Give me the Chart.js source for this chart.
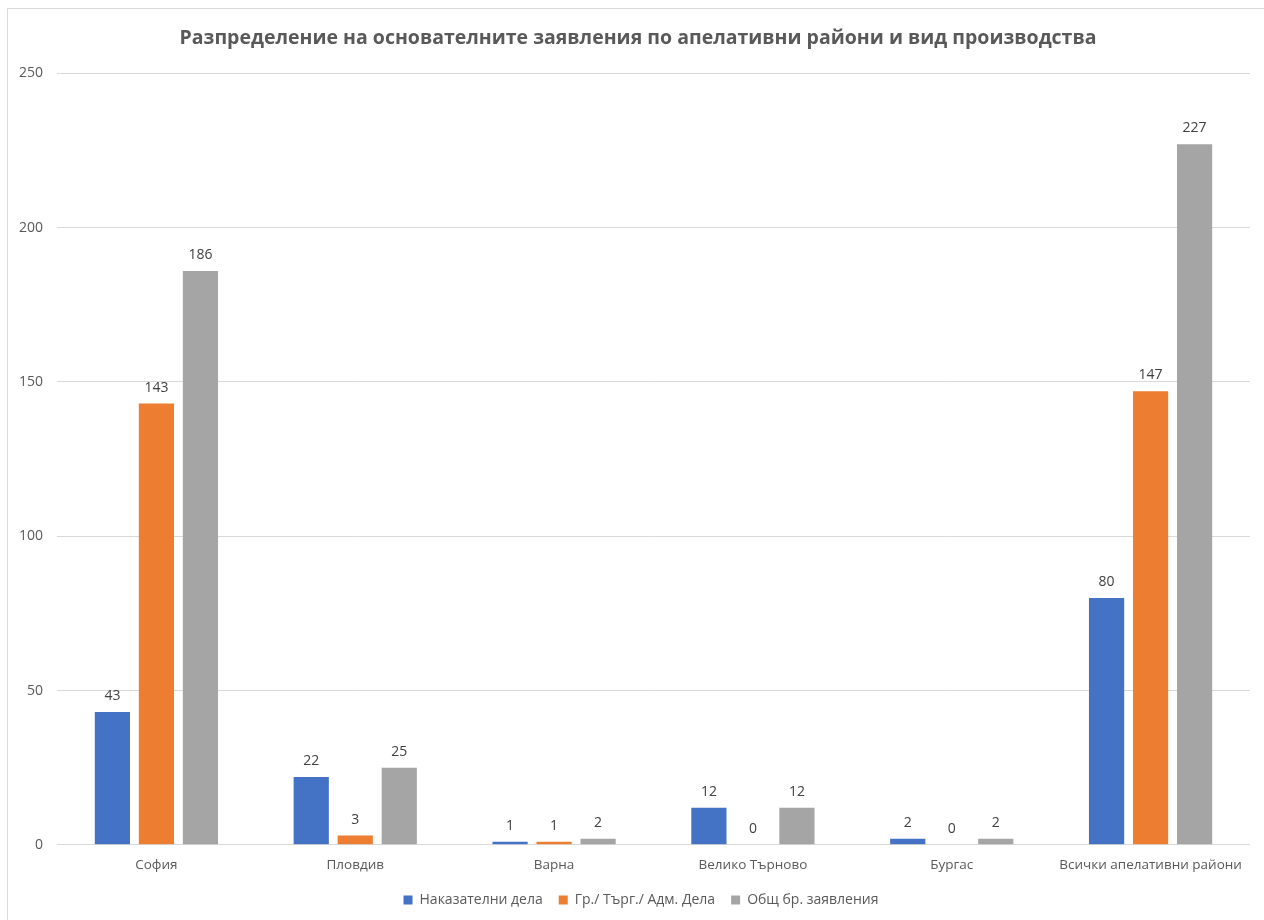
<!DOCTYPE html>
<html>
<head>
<meta charset="utf-8">
<script src="https://cdn.jsdelivr.net/npm/chart.js@4.4.1/dist/chart.umd.min.js"></script>
<style>
  html, body { margin: 0; padding: 0; background: #fff; overflow: hidden; }
  #box { position: absolute; left: 7px; top: 8px; width: 1262px; height: 930px;
         border: 1px solid #d9d9d9; box-sizing: border-box; }
  #wrap { position: absolute; left: 0; top: 0; width: 1260px; height: 908px; }
</style>
</head>
<body>
<div id="box"><div id="wrap"><canvas id="chart"></canvas></div></div>
<script>
const regions = ['София', 'Пловдив', 'Варна', 'Велико Търново', 'Бургас', 'Всички апелативни райони'];
const criminal = [43, 22, 1, 12, 2, 80];
const civil = [143, 3, 1, 0, 0, 147];
const total = [186, 25, 2, 12, 2, 227];
const seriesNames = ['Наказателни дела', 'Гр./ Търг./ Адм. Дела', 'Общ бр. заявления'];
const yTicks = [0, 50, 100, 150, 200, 250];

const FONT = '"Open Sans", "Noto Sans", sans-serif';

// simple value labels above each bar
const barLabels = {
  id: 'barLabels',
  afterDatasetsDraw(chart) {
    const c = chart.ctx;
    c.save();
    c.font = '14px ' + FONT;
    c.fillStyle = '#404040';
    c.textAlign = 'center';
    c.textBaseline = 'bottom';
    chart.data.datasets.forEach((ds, i) => {
      chart.getDatasetMeta(i).data.forEach((bar, j) => {
        c.fillText(String(ds.data[j]), bar.x, bar.y - 9);
      });
    });
    c.restore();
  }
};

// centre title and legend on the whole canvas, not the padded box
const centerBlocks = {
  id: 'centerBlocks',
  afterLayout(chart) {
    chart.titleBlock.left = 0;
    chart.titleBlock.right = chart.width;
    chart.legend.left = 0;
    chart.legend.right = chart.width + 6;
  }
};

new Chart(document.getElementById('chart'), {
  type: 'bar',
  data: {
    labels: regions,
    datasets: [
      { label: seriesNames[0], data: criminal, backgroundColor: '#4472C4' },
      { label: seriesNames[1], data: civil, backgroundColor: '#ED7D31' },
      { label: seriesNames[2], data: total, backgroundColor: '#A5A5A5' }
    ]
  },
  options: {
    responsive: true,
    maintainAspectRatio: false,
    animation: false,
    datasets: { bar: { categoryPercentage: 0.664, barPercentage: 0.8 } },
    layout: { padding: { left: 0, right: 18, top: 0, bottom: 0 } },
    scales: {
      x: {
        grid: { display: false },
        border: { display: false },
        ticks: { color: '#595959', font: { family: FONT, size: 13.5 }, padding: 4 }
      },
      y: {
        min: 0, max: 250,
        afterBuildTicks(scale) { scale.ticks = yTicks.map(v => ({ value: v })); },
        afterFit(scale) { scale.width = 49; },
        grid: { color: '#d9d9d9', drawTicks: false },
        border: { display: false },
        ticks: { color: '#595959', font: { family: FONT, size: 14 }, padding: 14 }
      }
    },
    plugins: {
      title: {
        display: true,
        text: 'Разпределение на основателните заявления по апелативни райони и вид производства',
        color: '#595959',
        font: { family: FONT, size: 19.5, weight: 'bold' },
        padding: { top: 18, bottom: 23 }
      },
      legend: {
        position: 'bottom',
        labels: {
          color: '#595959',
          font: { family: FONT, size: 14 },
          boxWidth: 9, boxHeight: 9,
          padding: 16
        }
      },
      tooltip: { enabled: false }
    }
  },
  plugins: [barLabels, centerBlocks]
});
</script>
</body>
</html>
